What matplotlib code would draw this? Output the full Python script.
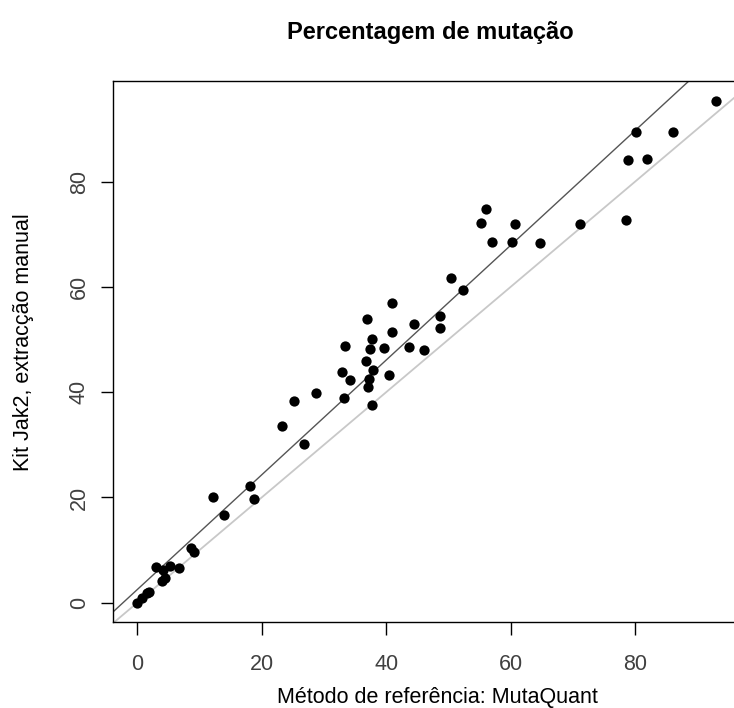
import numpy as np
from matplotlib import pyplot as plt

# valores (MutaQuant vs kit Jak2, % de mutação)
referencia = [93.0, 80.2, 86.1, 78.9, 82.0, 78.5, 71.2, 64.7, 60.3, 57.0,
              60.8, 55.2, 56.1, 52.3, 50.4, 48.7, 48.6, 44.5, 40.9, 36.9,
              40.9, 37.8, 33.4, 37.4, 39.7, 43.7, 46.1, 36.7, 37.9, 32.9,
              34.2, 37.3, 40.4, 37.1, 28.8, 25.2, 33.2, 37.7, 23.3, 26.8,
              18.1, 12.1, 18.8, 13.9, 8.6, 9.1, 3.0, 4.1, 5.3, 6.7,
              4.0, 4.5, 0.0, 0.8, 1.5, 1.8]
kit_manual = [95.4, 89.5, 89.4, 84.1, 84.4, 72.8, 72.0, 68.4, 68.6, 68.5,
              72.0, 72.1, 74.9, 59.4, 61.7, 52.2, 54.5, 52.9, 56.9, 53.9,
              51.4, 50.1, 48.7, 48.2, 48.4, 48.6, 48.0, 45.9, 44.2, 43.9,
              42.3, 42.6, 43.3, 40.9, 39.8, 38.3, 38.9, 37.5, 33.5, 30.1,
              22.2, 20.1, 19.8, 16.6, 10.3, 9.7, 6.8, 6.3, 6.9, 6.6,
              4.2, 4.7, -0.1, 0.9, 1.8, 2.1]

# recta de regressão
reg_intercept = 2.5
reg_slope = 1.09

ticks = [0, 20, 40, 60, 80]

plt.rcParams['font.family'] = ['Liberation Sans', 'DejaVu Sans']

W, H = 734, 708
fig = plt.figure(figsize=(W / 100, H / 100), dpi=100)
ax = fig.add_axes([113.3 / W, (H - 622.3) / H, 625.6 / W, 541.0 / H])

# linha y = x (cinzento claro) e regressão (cinzento escuro)
ax.axline((0, 0), slope=1, color='#c8c8c8', lw=1.3, zorder=1)
ax.axline((0, reg_intercept), slope=reg_slope, color='#555555', lw=1.0, zorder=1)
ax.plot(referencia, kit_manual, 'o', color='black', ms=7.4, mew=0, zorder=2)

ax.set_xlim(-3.86, 96.72)
ax.set_ylim(-3.73, 99.1)
ax.set_xticks(ticks)
ax.set_yticks(ticks)
for s in ax.spines.values():
    s.set_linewidth(1.0)
ax.tick_params(direction='out', length=9, width=1.0, labelsize=15.5,
               labelcolor='#404040')
ax.tick_params(axis='x', pad=14)
ax.tick_params(axis='y', pad=8)
for lbl in ax.get_yticklabels():
    lbl.set_rotation(90)
    lbl.set_va('center')

fig.text(437 / W, 1 - 703.3 / H, 'Método de referência: MutaQuant',
         ha='center', va='baseline', fontsize=15.5)
fig.text(24 / W, 1 - 342 / H, 'Kit Jak2, extracção manual', rotation=90,
         ha='center', va='center', fontsize=15.5)
fig.text(430 / W, 1 - 39.5 / H, 'Percentagem de mutação', ha='center',
         va='baseline', fontsize=17, fontweight='bold')

fig.savefig('out.png', dpi=100)
